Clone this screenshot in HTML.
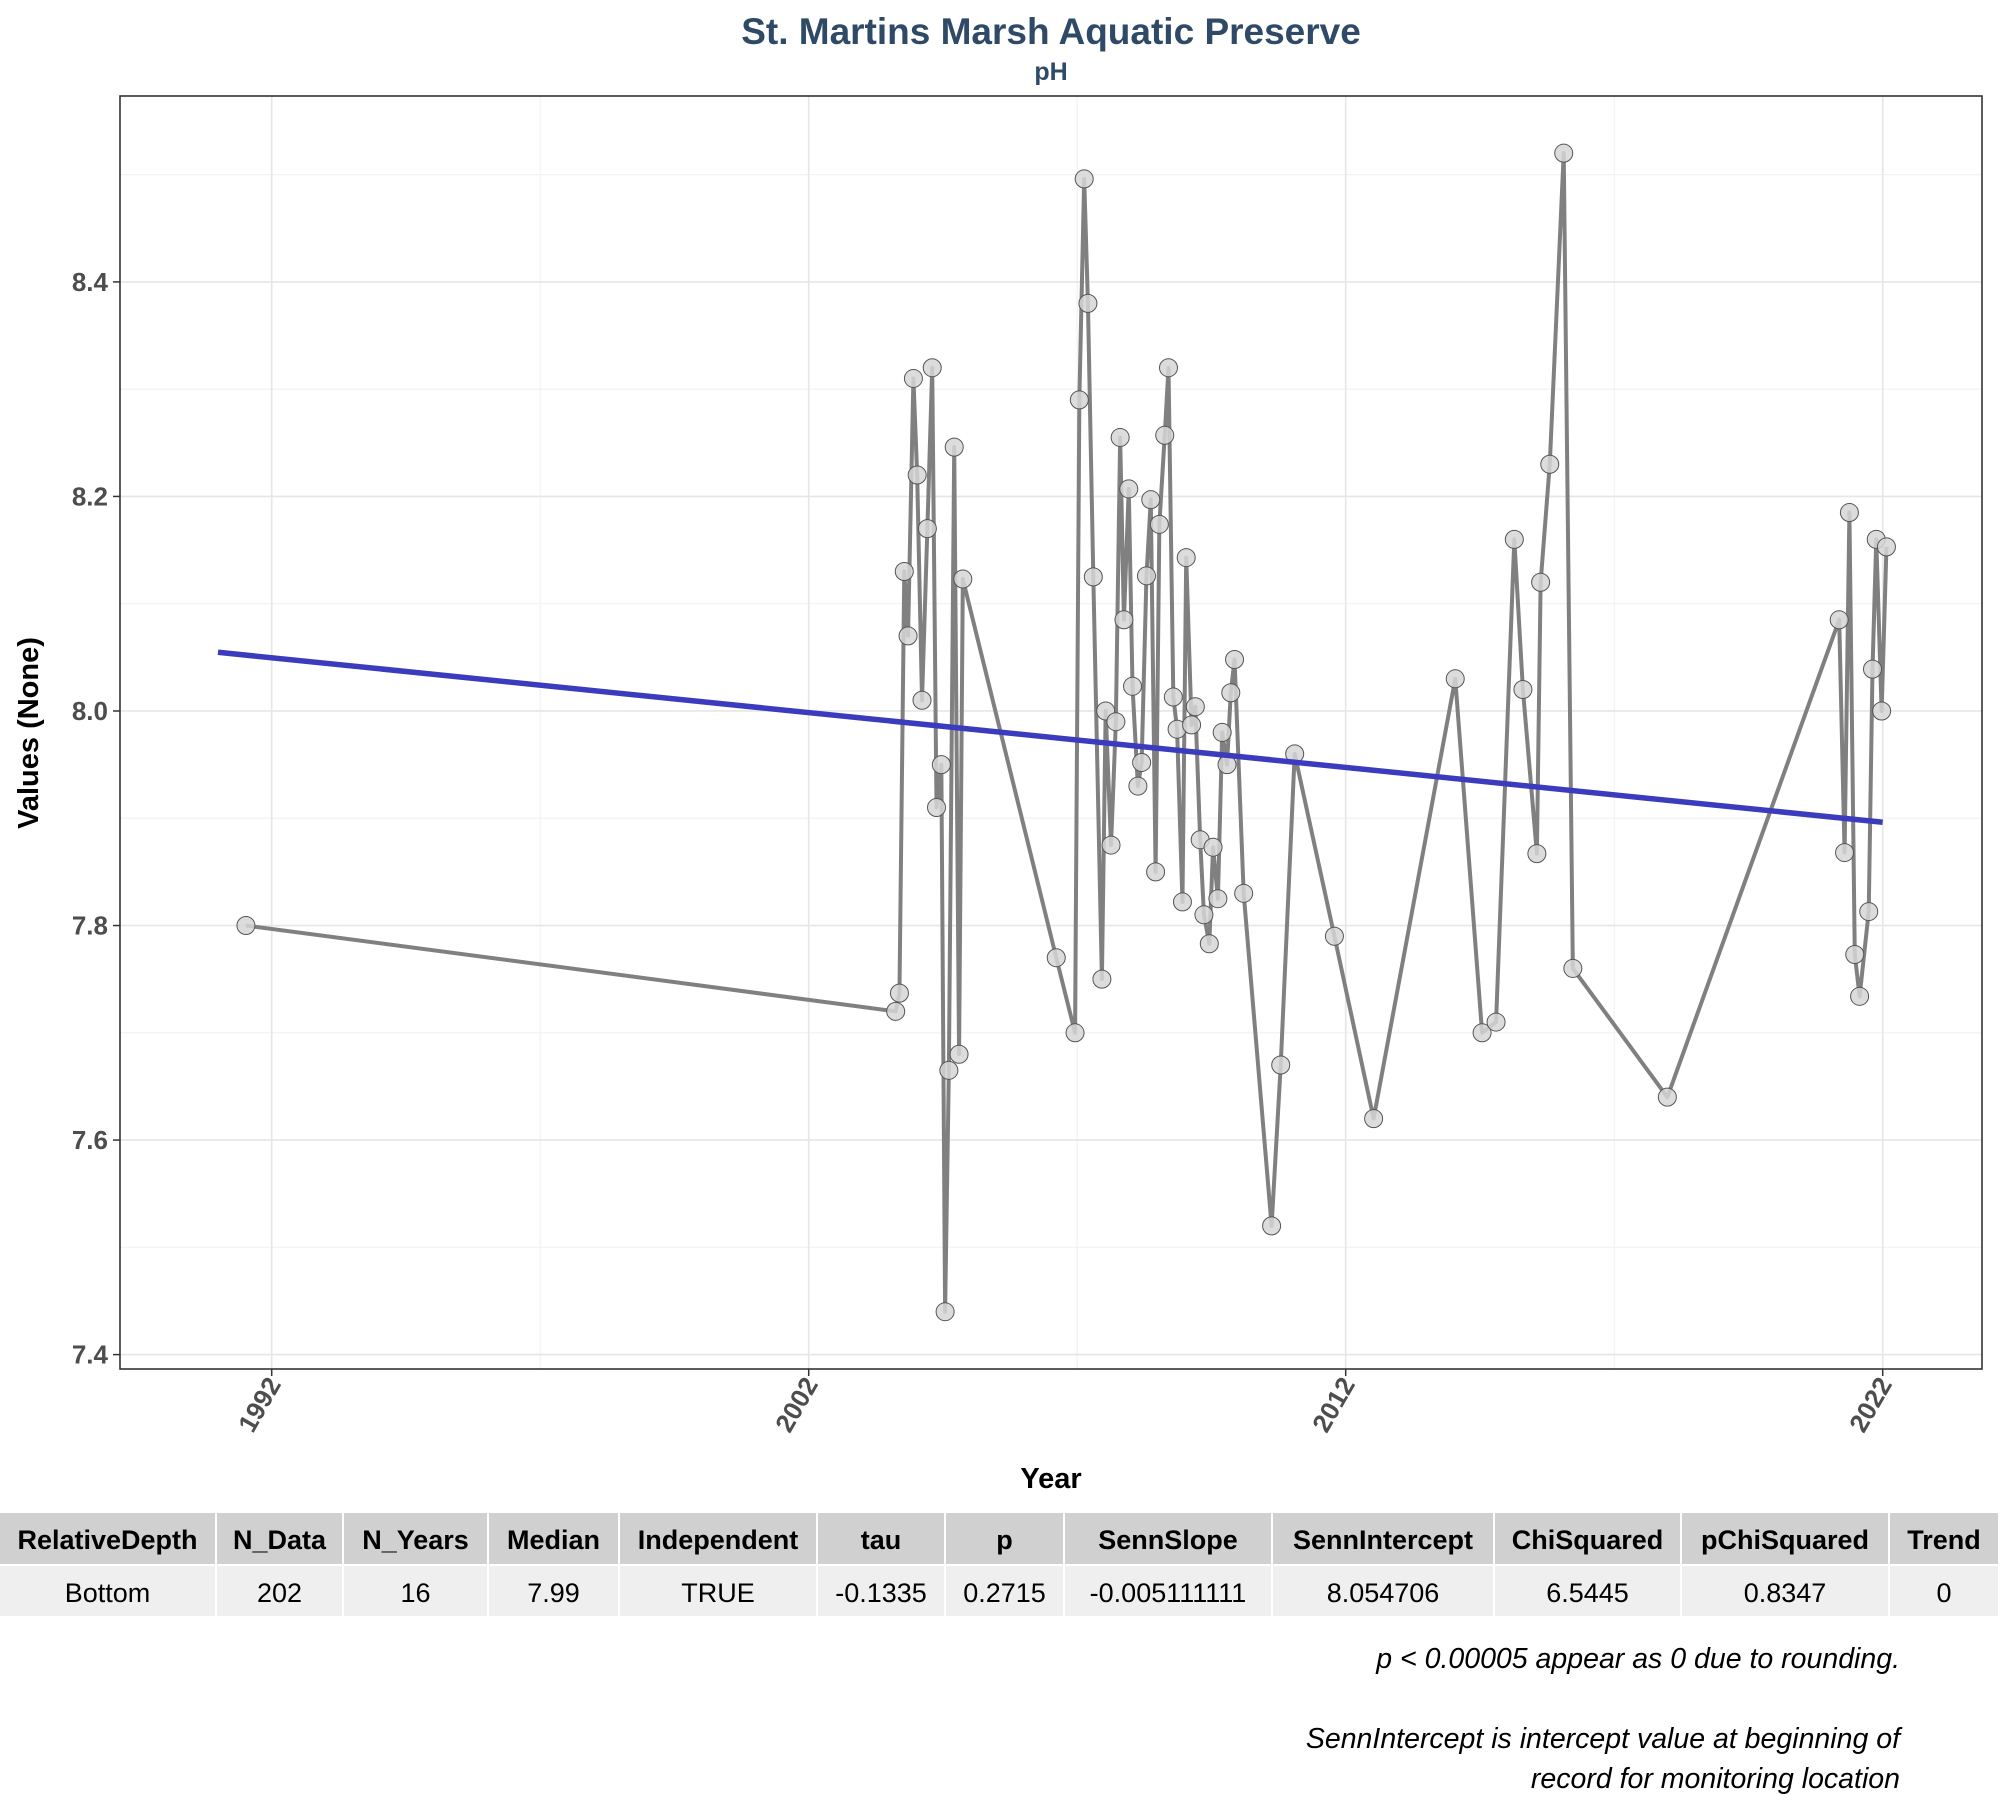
<!DOCTYPE html>
<html><head><meta charset="utf-8"><style>
body{margin:0;background:#fff;width:2000px;height:1800px;overflow:hidden;font-family:"Liberation Sans",sans-serif;}
svg text{font-family:"Liberation Sans",sans-serif;}
</style></head><body>
<svg id="chart" width="2000" height="1800" xmlns="http://www.w3.org/2000/svg">
<text x="1051" y="44" text-anchor="middle" font-size="37" font-weight="bold" fill="#2e4a66">St. Martins Marsh Aquatic Preserve</text>
<text x="1051" y="80" text-anchor="middle" font-size="25" font-weight="bold" fill="#2e4a66">pH</text>
<g id="grid"></g>
<g id="series"></g>
<rect x="120" y="96" width="1862" height="1273" fill="none" stroke="#333" stroke-width="1.6"/>
<g id="axes"></g>
<text transform="translate(38,733) rotate(-90)" text-anchor="middle" font-size="29" font-weight="bold" fill="#000">Values (None)</text>
<text x="1051" y="1488" text-anchor="middle" font-size="29" font-weight="bold" fill="#000">Year</text>
<g id="table"></g>
<text x="1900" y="1668" text-anchor="end" font-size="28.5" font-style="italic" fill="#000">p &lt; 0.00005 appear as 0 due to rounding.</text>
<text x="1900" y="1748" text-anchor="end" font-size="28.5" font-style="italic" fill="#000">SennIntercept is intercept value at beginning of</text>
<text x="1900" y="1788" text-anchor="end" font-size="28.5" font-style="italic" fill="#000">record for monitoring location</text>
</svg>
<script>
const years=[1991.52,2003.62,2003.69,2003.78,2003.85,2003.95,2004.02,2004.11,2004.21,2004.30,2004.38,2004.47,2004.54,2004.61,2004.71,2004.80,2004.87,2006.61,2006.96,2007.04,2007.13,2007.20,2007.30,2007.46,2007.53,2007.63,2007.72,2007.80,2007.87,2007.96,2008.03,2008.13,2008.20,2008.29,2008.37,2008.46,2008.53,2008.63,2008.70,2008.79,2008.86,2008.96,2009.03,2009.13,2009.20,2009.29,2009.36,2009.46,2009.53,2009.62,2009.70,2009.79,2009.86,2009.93,2010.10,2010.62,2010.79,2011.05,2011.79,2012.52,2014.04,2014.54,2014.80,2015.14,2015.30,2015.56,2015.63,2015.80,2016.06,2016.23,2017.99,2021.19,2021.29,2021.38,2021.48,2021.57,2021.74,2021.81,2021.88,2021.98,2022.07];
const values=[7.80,7.72,7.737,8.13,8.07,8.31,8.22,8.01,8.17,8.32,7.91,7.95,7.44,7.665,8.246,7.68,8.123,7.77,7.70,8.29,8.496,8.38,8.125,7.75,8.00,7.875,7.99,8.255,8.085,8.207,8.023,7.93,7.952,8.126,8.197,7.85,8.174,8.257,8.32,8.013,7.983,7.822,8.143,7.987,8.004,7.88,7.81,7.783,7.873,7.825,7.98,7.95,8.017,8.048,7.83,7.52,7.67,7.96,7.79,7.62,8.03,7.70,7.71,8.16,8.02,7.867,8.12,8.23,8.52,7.76,7.64,8.085,7.868,8.185,7.773,7.734,7.813,8.039,8.16,8.00,8.153];
const trendStartYear=1991.0, trendEndYear=2022.0;
const trendIntercept=8.054706, trendSlope=-0.005111111;
const yTicks=[7.4,7.6,7.8,8.0,8.2,8.4];
const yMinor=[7.5,7.7,7.9,8.1,8.3,8.5];
const xTicks=[1992,2002,2012,2022];
const xMinor=[1997,2007,2017];
const headers=["RelativeDepth","N_Data","N_Years","Median","Independent","tau","p","SennSlope","SennIntercept","ChiSquared","pChiSquared","Trend"];
const rowVals=["Bottom","202","16","7.99","TRUE","-0.1335","0.2715","-0.005111111","8.054706","6.5445","0.8347","0"];

const NS="http://www.w3.org/2000/svg";
const X=y=>271.7+(y-1992)*53.7;
const Y=v=>1354.6-(v-7.4)*1072.7;
function mk(tag,attrs,parent){const e=document.createElementNS(NS,tag);for(const k in attrs)e.setAttribute(k,attrs[k]);parent.appendChild(e);return e;}
const grid=document.getElementById('grid'),ser=document.getElementById('series'),axes=document.getElementById('axes'),tbl=document.getElementById('table');
yMinor.forEach(v=>{if(Y(v)<96)return;const l=mk('line',{x1:120,x2:1982,y1:Y(v),y2:Y(v),stroke:'#f2f2f2','stroke-width':1.2},grid);
});
xMinor.forEach(t=>{const l=mk('line',{x1:X(t),x2:X(t),y1:96,y2:1369,stroke:'#f2f2f2','stroke-width':1.2},grid);
});
yTicks.forEach(v=>{const l=mk('line',{x1:120,x2:1982,y1:Y(v),y2:Y(v),stroke:'#e6e6e6','stroke-width':1.6},grid);

const tk=mk('line',{x1:113,x2:120,y1:Y(v),y2:Y(v),stroke:'#333','stroke-width':1.5},axes);

const t=mk('text',{x:108,y:Y(v)+9,'text-anchor':'end','font-size':26,'font-weight':'bold',fill:'#4d4d4d'},axes);t.textContent=v.toFixed(1);
});
xTicks.forEach(yr=>{const l=mk('line',{x1:X(yr),x2:X(yr),y1:96,y2:1369,stroke:'#e6e6e6','stroke-width':1.6},grid);

const tk=mk('line',{x1:X(yr),x2:X(yr),y1:1369,y2:1376,stroke:'#333','stroke-width':1.5},axes);

const t=mk('text',{transform:`translate(${X(yr)+10},1384) rotate(-60)`,'text-anchor':'end','font-size':26,'font-weight':'bold',fill:'#4d4d4d'},axes);t.textContent=yr;
});
const pl=mk('polyline',{points:years.map((y,i)=>X(y)+','+Y(values[i])).join(' '),fill:'none',stroke:'#808080','stroke-width':4,'stroke-linejoin':'round'},ser);

years.forEach((y,i)=>{const c=mk('circle',{cx:X(y),cy:Y(values[i]),r:9,fill:'#d6d6d6','fill-opacity':0.85,stroke:'#555','stroke-width':1},ser);
});
const tr=mk('line',{x1:X(trendStartYear),y1:Y(trendIntercept),x2:X(trendEndYear),y2:Y(trendIntercept+trendSlope*(trendEndYear-trendStartYear)),stroke:'#3b3bbd','stroke-width':5.5},ser);

const colX=[0,217,344,489,620,818,946,1065,1273,1495,1682,1890,2000];
headers.forEach((h,i)=>{const x0=colX[i],w=colX[i+1]-colX[i]-2;
const r1=mk('rect',{x:x0,y:1513,width:w,height:51,fill:'#d0d0d0'},tbl);
const t1=mk('text',{x:x0+w/2,y:1549,'text-anchor':'middle','font-size':27,'font-weight':'bold',fill:'#000'},tbl);t1.textContent=h;

const r2=mk('rect',{x:x0,y:1566,width:w,height:50,fill:'#efefef'},tbl);
const t2=mk('text',{x:x0+w/2,y:1602,'text-anchor':'middle','font-size':27,fill:'#000'},tbl);t2.textContent=rowVals[i];
});
</script>
</body></html>
